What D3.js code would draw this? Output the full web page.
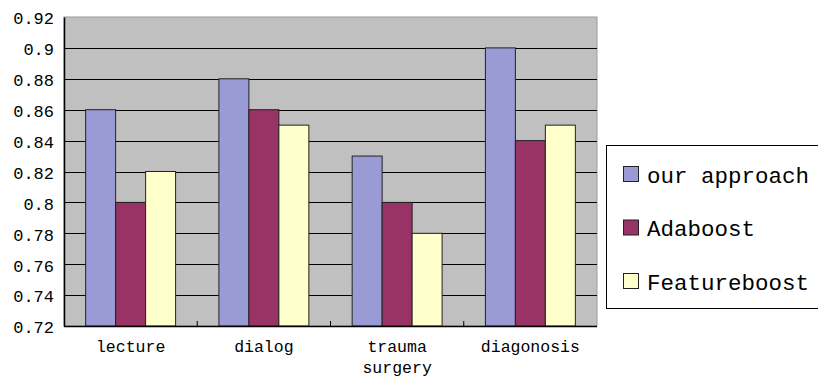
<!DOCTYPE html>
<html>
<head>
<meta charset="utf-8">
<script src="https://cdn.jsdelivr.net/npm/d3@7"></script>
<style>
  html, body { margin: 0; padding: 0; background: #fff; }
  svg { display: block; }
  text { font-family: "Liberation Mono", "DejaVu Sans Mono", monospace; fill: #000; }
</style>
</head>
<body>
<svg id="chart" width="818" height="379"></svg>
<script>
// Accuracy of each method per dataset
const categories = ["lecture", "dialog", "trauma\nsurgery", "diagonosis"];
const seriesNames = ["our approach", "Adaboost", "Featureboost"];
const ourApproach  = [0.86, 0.88, 0.83, 0.90];
const adaboost     = [0.80, 0.86, 0.80, 0.84];
const featureboost = [0.82, 0.85, 0.78, 0.85];
const yTicks = [0.72, 0.74, 0.76, 0.78, 0.8, 0.82, 0.84, 0.86, 0.88, 0.9, 0.92];
const colors = ["#9a9ad4", "#993366", "#ffffcc"];

const seriesValues = [ourApproach, adaboost, featureboost];

const svg = d3.select("#chart");
const plot = { left: 64, top: 17, right: 597, bottom: 326 };

const x = d3.scaleBand().domain(categories).range([plot.left, plot.right]).paddingInner(0).paddingOuter(0);
const barW = x.bandwidth() * 0.675 / 3;
const xs = d3.scaleBand().domain(seriesNames).range([0, barW * 3]);
const y = d3.scaleLinear().domain([0.72, 0.92]).range([plot.bottom, plot.top]);

// plot background
svg.append("rect")
  .attr("x", plot.left).attr("y", plot.top)
  .attr("width", plot.right - plot.left).attr("height", plot.bottom - plot.top)
  .attr("fill", "#c0c0c0")
  .attr("stroke", "#9a9a9a").attr("stroke-width", 1);

// horizontal gridlines
svg.append("g").selectAll("line")
  .data(yTicks.slice(1, -1))
  .join("line")
  .attr("x1", plot.left).attr("x2", plot.right)
  .attr("y1", d => Math.round(y(d)) + 0.5).attr("y2", d => Math.round(y(d)) + 0.5)
  .attr("stroke", "#000").attr("stroke-width", 1);

// bars
const groups = svg.append("g").selectAll("g")
  .data(categories)
  .join("g")
  .attr("transform", c => `translate(${x(c) + (x.bandwidth() - barW * 3) / 2},0)`);

groups.selectAll("rect")
  .data((c, i) => seriesNames.map((s, j) => ({ s, j, v: seriesValues[j][i] })))
  .join("rect")
  .attr("x", d => xs(d.s))
  .attr("y", d => y(d.v))
  .attr("width", xs.bandwidth())
  .attr("height", d => plot.bottom - y(d.v))
  .attr("fill", d => colors[d.j])
  .attr("stroke", "#222").attr("stroke-width", 1);

// y axis
const yAxis = d3.axisLeft(y).tickValues(yTicks).tickSize(0).tickPadding(10)
  .tickFormat(d => d3.format("")(+d.toFixed(2)));
const gy = svg.append("g").attr("transform", `translate(${plot.left},0)`).call(yAxis);
gy.select(".domain").attr("stroke", "#000").attr("stroke-width", 1.5);
gy.selectAll("text").style("font-size", "17px").style("font-family", '"Liberation Mono", monospace').attr("dy", "0.4em");

// x axis with category boundary ticks inside the plot
svg.append("line")
  .attr("x1", plot.left).attr("x2", plot.right)
  .attr("y1", plot.bottom + 0.5).attr("y2", plot.bottom + 0.5)
  .attr("stroke", "#000").attr("stroke-width", 1.5);
svg.append("g").selectAll("line")
  .data(categories.slice(1))
  .join("line")
  .attr("x1", c => x(c)).attr("x2", c => x(c))
  .attr("y1", plot.bottom).attr("y2", plot.bottom - 5)
  .attr("stroke", "#000");

svg.append("g").selectAll("text")
  .data(categories)
  .join("text")
  .attr("text-anchor", "middle")
  .style("font-size", "16.5px")
  .each(function (c) {
    const t = d3.select(this);
    c.split("\n").forEach((line, k) => {
      t.append("tspan")
        .attr("x", x(c) + x.bandwidth() / 2)
        .attr("y", 352 + k * 21)
        .text(line);
    });
  });

// legend
const legend = svg.append("g");
legend.append("rect")
  .attr("x", 606.5).attr("y", 145.5).attr("width", 240).attr("height", 163)
  .attr("fill", "#fff").attr("stroke", "#000").attr("stroke-width", 1);
const li = legend.selectAll("g.item")
  .data(seriesNames)
  .join("g")
  .attr("class", "item")
  .attr("transform", (d, i) => `translate(0,${175 + i * 53.5})`);
li.append("rect")
  .attr("x", 623.5).attr("y", -8.5).attr("width", 15).attr("height", 15)
  .attr("fill", (d, i) => colors[i]).attr("stroke", "#222");
li.append("text")
  .attr("x", 647).attr("y", 0).attr("dy", "0.35em")
  .style("font-size", "22.5px")
  .text(d => d);
</script>
</body>
</html>
